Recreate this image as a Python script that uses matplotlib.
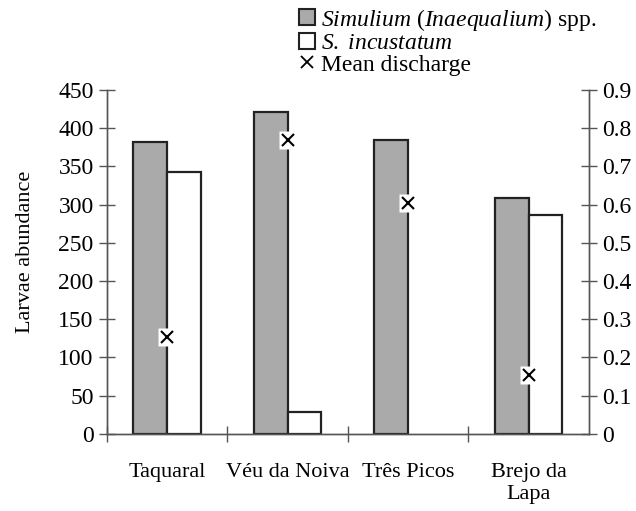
import numpy as np
import matplotlib
matplotlib.use("Agg")
import matplotlib.pyplot as plt
from matplotlib.lines import Line2D
from matplotlib.ticker import FuncFormatter

plt.rcParams['font.family'] = ['Liberation Serif', 'DejaVu Serif']
plt.rcParams['mathtext.fontset'] = 'custom'
plt.rcParams['mathtext.rm'] = 'Liberation Serif'
plt.rcParams['mathtext.it'] = 'Liberation Serif:italic'

sites = ['Taquaral', 'Véu da Noiva', 'Três Picos', 'Brejo da\nLapa']
inaequalium = [382, 421, 384, 308]
incustatum = [342, 29, 0, 287]
discharge = [0.253, 0.768, 0.605, 0.154]

gray = '#a9aaa9'
edge = '#222222'

fig = plt.figure(figsize=(6.36, 5.11), dpi=100)
ax = fig.add_axes([0.168, 0.151, 0.758, 0.673])
ax2 = ax.twinx()

x = np.arange(len(sites))
w = 0.28
ax.bar(x - w / 2, inaequalium, w, color=gray, edgecolor=edge, linewidth=1.6)
# no white bar where the count is zero
has = np.array(incustatum) > 0
ax.bar((x + w / 2)[has], np.array(incustatum)[has], w, color='white',
       edgecolor=edge, linewidth=1.6)

# white box behind each discharge cross
ax2.plot(x, discharge, linestyle='none', marker='s', markersize=13,
         markerfacecolor='white', markeredgecolor='none')
ax2.plot(x, discharge, linestyle='none', marker='x', markersize=9,
         color='black', mew=1.5)

ax.set_xlim(-0.5, 3.5)
ax.set_ylim(0, 450)
ax2.set_ylim(0, 0.9)
ax.set_yticks(np.arange(0, 451, 50))
ax2.set_yticks(np.arange(0, 0.91, 0.1))
ax2.yaxis.set_major_formatter(FuncFormatter(lambda v, p: '0' if abs(v) < 1e-9 else f'{v:.1f}'))

ax.set_xticks(x)
ax.set_xticklabels(sites)
ax.set_xticks([-0.5, 0.5, 1.5, 2.5], minor=True)
ax.tick_params(axis='x', which='major', length=0, pad=21, labelsize=16)
ax.tick_params(axis='x', which='minor', direction='inout', length=11, width=1, color='#555555')
ax.tick_params(axis='y', direction='inout', length=11, width=1, color='#555555', pad=4, labelsize=17)
ax2.tick_params(axis='y', direction='inout', length=11, width=1, color='#555555', pad=4, labelsize=17)

for a in (ax, ax2):
    a.spines['top'].set_visible(False)
    for s in ('left', 'right', 'bottom'):
        a.spines[s].set_color('#555555')
        a.spines[s].set_linewidth(1)

ax.set_ylabel('Larvae abundance', fontsize=16)
ax.yaxis.set_label_coords(-0.15, 0.53)

handles = [
    Line2D([], [], linestyle='none', marker='s', markersize=12,
           markerfacecolor=gray, markeredgecolor=edge, mew=1.5),
    Line2D([], [], linestyle='none', marker='s', markersize=12,
           markerfacecolor='white', markeredgecolor=edge, mew=1.5),
    Line2D([], [], linestyle='none', marker='x', markersize=9, color='black', mew=1.3),
]
labels = [r'$\mathit{Simulium}$ ($\mathit{Inaequalium}$) spp.',
          r'$\mathit{S.\ incustatum}$',
          'Mean discharge']
fig.legend(handles, labels, loc='upper left', bbox_to_anchor=(0.446, 1.015),
           frameon=False, fontsize=17, handlelength=0.8, handletextpad=0.2,
           labelspacing=0.0, borderaxespad=0.2)

fig.savefig('out.png', dpi=100)
